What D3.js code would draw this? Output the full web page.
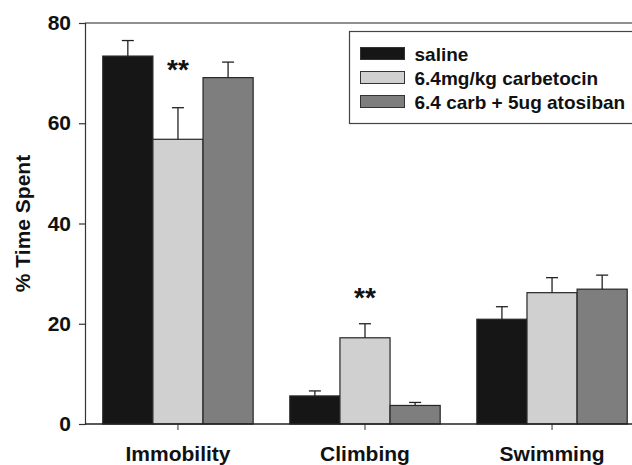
<!DOCTYPE html>
<html>
<head>
<meta charset="utf-8">
<script src="https://cdn.jsdelivr.net/npm/d3@7"></script>
<style>
  html, body { margin: 0; padding: 0; background: #fff; }
  svg { display: block; font-family: "Liberation Sans", Arial, sans-serif; font-weight: bold; }
</style>
</head>
<body>
<div id="chart"></div>
<script>
// categories and series
const categories = ["Immobility", "Climbing", "Swimming"];
const seriesNames = ["saline", "6.4mg/kg carbetocin", "6.4 carb + 5ug atosiban"];
const seriesColors = ["#161616", "#d0d0d0", "#7e7e7e"];

// mean values, one array per series (order = categories)
const salineValues = [73.4, 5.6, 20.9];
const carbetocinValues = [56.8, 17.2, 26.2];
const atosibanValues = [69.1, 3.7, 26.9];

// upper error bars (SEM)
const salineErrors = [3.1, 1.0, 2.5];
const carbetocinErrors = [6.3, 2.8, 3.0];
const atosibanErrors = [3.1, 0.6, 2.8];

const yTicks = [0, 20, 40, 60, 80];

// significance marks: category, series index, y value of the text baseline
const marks = [
  { category: "Immobility", series: 1, y: 68.8, text: "**" },
  { category: "Climbing", series: 1, y: 23.4, text: "**" }
];

const width = 632, height = 465;
const margin = { left: 85, top: 23, bottom: 41 };

const values = [salineValues, carbetocinValues, atosibanValues];
const errors = [salineErrors, carbetocinErrors, atosibanErrors];

const svg = d3.select("#chart").append("svg")
  .attr("width", width)
  .attr("height", height);

const x0 = d3.scaleBand()
  .domain(categories)
  .range([margin.left, margin.left + 560])
  .paddingInner(0.196)
  .paddingOuter(0.095);

const x1 = d3.scaleBand()
  .domain(d3.range(seriesNames.length))
  .range([0, x0.bandwidth()]);

const y = d3.scaleLinear()
  .domain([0, 80])
  .range([height - margin.bottom, margin.top]);

// top frame line
svg.append("line")
  .attr("x1", margin.left).attr("x2", width)
  .attr("y1", y(80)).attr("y2", y(80))
  .attr("stroke", "#222").attr("stroke-width", 1.2);

// bars
const groups = svg.append("g").selectAll("g")
  .data(categories)
  .join("g")
  .attr("transform", d => `translate(${x0(d)},0)`);

groups.selectAll("rect")
  .data((c, ci) => values.map((v, si) => ({ si, v: v[ci], e: errors[si][ci] })))
  .join("rect")
  .attr("x", d => x1(d.si))
  .attr("width", x1.bandwidth())
  .attr("y", d => y(d.v))
  .attr("height", d => y(0) - y(d.v))
  .attr("fill", d => seriesColors[d.si])
  .attr("stroke", "#262626")
  .attr("stroke-width", 1.2);

// error bars (upper only)
const eb = groups.selectAll("g.err")
  .data((c, ci) => values.map((v, si) => ({ si, v: v[ci], e: errors[si][ci] })))
  .join("g").attr("class", "err")
  .attr("stroke", "#222").attr("stroke-width", 1.3);

eb.append("line")
  .attr("x1", d => x1(d.si) + x1.bandwidth() / 2)
  .attr("x2", d => x1(d.si) + x1.bandwidth() / 2)
  .attr("y1", d => y(d.v))
  .attr("y2", d => y(d.v + d.e));

eb.append("line")
  .attr("x1", d => x1(d.si) + x1.bandwidth() / 2 - 6)
  .attr("x2", d => x1(d.si) + x1.bandwidth() / 2 + 6)
  .attr("y1", d => y(d.v + d.e))
  .attr("y2", d => y(d.v + d.e));

// significance stars
svg.append("g").selectAll("text")
  .data(marks)
  .join("text")
  .attr("x", d => x0(d.category) + x1(d.series) + x1.bandwidth() / 2)
  .attr("y", d => y(d.y))
  .attr("text-anchor", "middle")
  .attr("font-size", 28)
  .attr("fill", "#111")
  .text(d => d.text);

// y axis
const yAxis = svg.append("g")
  .attr("transform", `translate(${margin.left},0)`)
  .call(d3.axisLeft(y).tickValues(yTicks).tickSize(6).tickPadding(8));
yAxis.select(".domain").attr("stroke", "#333").attr("stroke-width", 1.2);
yAxis.selectAll(".tick line").attr("stroke", "#333").attr("stroke-width", 1.2);
yAxis.selectAll("text")
  .attr("font-size", 21).attr("font-weight", "bold")
  .attr("font-family", "'Liberation Sans', Arial, sans-serif")
  .attr("fill", "#111");

// x axis
const xAxis = svg.append("g")
  .attr("transform", `translate(0,${y(0)})`)
  .call(d3.axisBottom(x0).tickSize(6).tickPadding(16));
xAxis.select(".domain").remove();
xAxis.append("line")
  .attr("x1", margin.left).attr("x2", width)
  .attr("stroke", "#222").attr("stroke-width", 1.4);
xAxis.selectAll(".tick line").attr("stroke", "#555").attr("stroke-width", 1.2);
xAxis.selectAll("text")
  .attr("font-size", 21).attr("font-weight", "bold")
  .attr("font-family", "'Liberation Sans', Arial, sans-serif")
  .attr("fill", "#111");

// y title
svg.append("text")
  .attr("transform", `translate(30,${(y(0) + y(80)) / 2}) rotate(-90)`)
  .attr("text-anchor", "middle")
  .attr("font-size", 21)
  .attr("fill", "#111")
  .text("% Time Spent");

// legend
const legend = svg.append("g").attr("transform", "translate(349.5,31.5)");
legend.append("rect")
  .attr("width", 300).attr("height", 92)
  .attr("fill", "#fff")
  .attr("stroke", "#444").attr("stroke-width", 1.2);

const rows = legend.selectAll("g.row")
  .data(seriesNames)
  .join("g").attr("class", "row")
  .attr("transform", (d, i) => `translate(11,${16 + i * 24})`);

rows.append("rect")
  .attr("width", 44).attr("height", 12)
  .attr("fill", (d, i) => seriesColors[i])
  .attr("stroke", "#333").attr("stroke-width", 1);

rows.append("text")
  .attr("x", 54).attr("y", 13)
  .attr("font-size", 19)
  .attr("fill", "#111")
  .text(d => d);
</script>
</body>
</html>
